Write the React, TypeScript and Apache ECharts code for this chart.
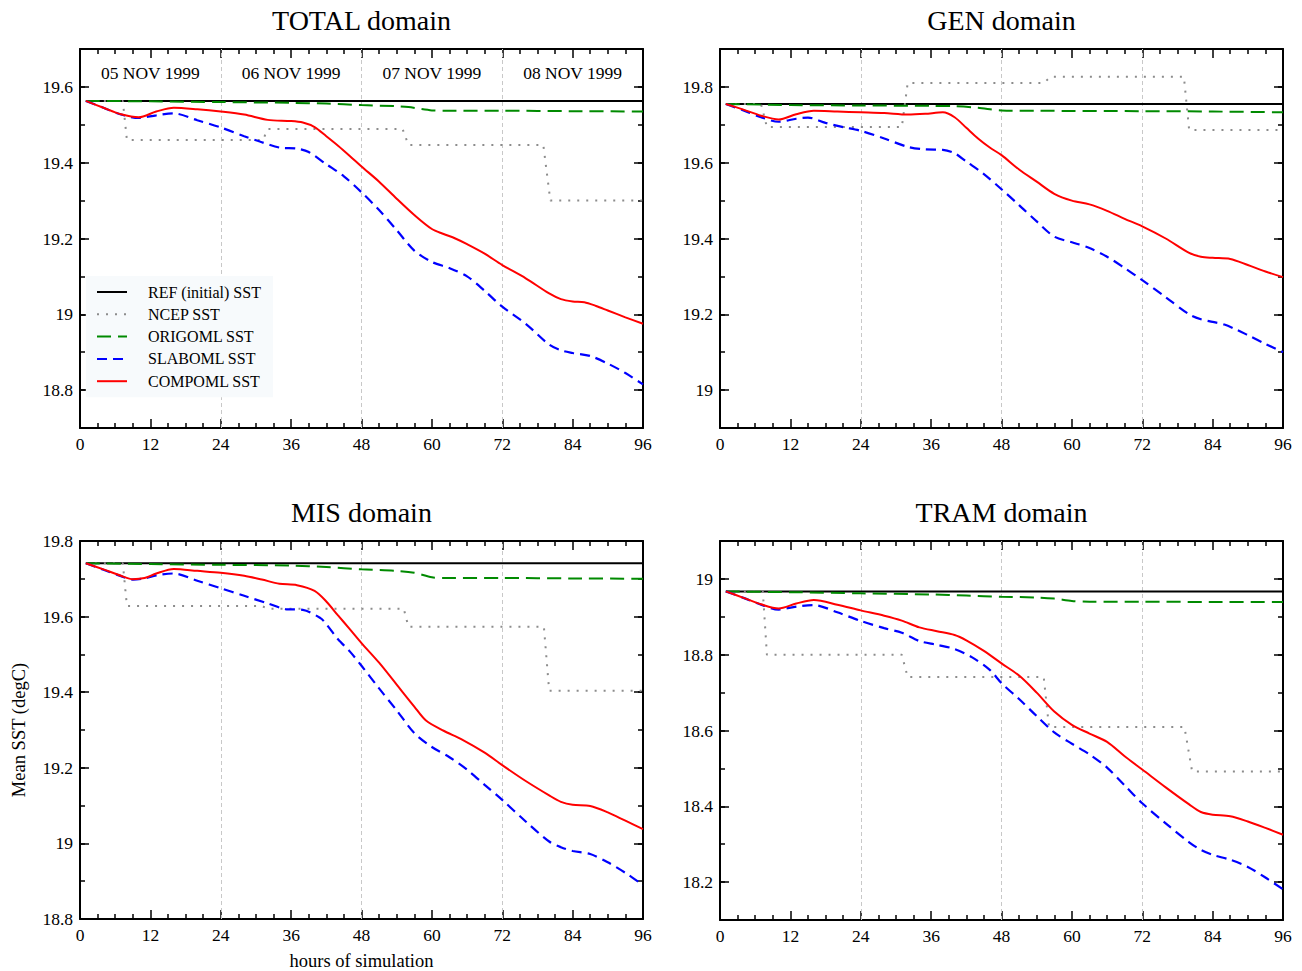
import React, { useEffect, useRef } from "react";
import * as echarts from "echarts";

const FONT = "'Liberation Serif', 'Times New Roman', serif";

const panelTitles = ["TOTAL domain", "GEN domain", "MIS domain", "TRAM domain"];
const seriesNames = ["REF (initial) SST", "NCEP SST", "ORIGOML SST", "SLABOML SST", "COMPOML SST"];
const seriesColors = ["#000000", "#8c8c8c", "#008a00", "#0000ff", "#ff0000"];
const xAxisName = "hours of simulation";
const yAxisName = "Mean SST (degC)";

const dayBoundaries = [24, 48, 72];
const dayLabelHours = [12, 36, 60, 84];
const dayLabels = ["05 NOV 1999", "06 NOV 1999", "07 NOV 1999", "08 NOV 1999"];

const yRanges = [
  [18.7, 19.7],
  [18.9, 19.9],
  [18.8, 19.8],
  [18.1, 19.1],
];
const yMajorTicks = [
  [18.8, 19, 19.2, 19.4, 19.6],
  [19, 19.2, 19.4, 19.6, 19.8],
  [18.8, 19, 19.2, 19.4, 19.6, 19.8],
  [18.2, 18.4, 18.6, 18.8, 19],
];

// TOTAL domain
const totalRef = [[1, 19.563], [96, 19.563]];
const totalNcep = [[1, 19.563], [7.3, 19.563], [8, 19.46], [31.2, 19.46], [32, 19.489], [55, 19.489], [56, 19.447], [79, 19.447], [80.2, 19.3], [96, 19.3]];
const totalOrig = [[1, 19.563], [12, 19.562], [24, 19.56], [36, 19.558], [42, 19.556], [48, 19.552], [54, 19.549], [56, 19.547], [58, 19.542], [60, 19.538], [62, 19.537], [72, 19.537], [84, 19.536], [96, 19.535]];
const totalSlab = [[1, 19.563], [4, 19.545], [7, 19.527], [10, 19.518], [13, 19.525], [16, 19.53], [20, 19.512], [24, 19.493], [28, 19.47], [31, 19.454], [34, 19.44], [37, 19.437], [39, 19.428], [42, 19.396], [45, 19.364], [48, 19.322], [51, 19.275], [54, 19.222], [57, 19.168], [60, 19.138], [63, 19.122], [66, 19.1], [69, 19.062], [72, 19.02], [76, 18.975], [80, 18.92], [82, 18.905], [84, 18.898], [87, 18.89], [90, 18.87], [93, 18.845], [96, 18.815]];
const totalComp = [[1, 19.563], [4, 19.545], [7, 19.528], [10, 19.52], [13, 19.535], [16, 19.545], [20, 19.541], [24, 19.535], [28, 19.527], [32, 19.513], [36, 19.51], [38, 19.506], [40, 19.494], [42, 19.47], [44, 19.445], [46, 19.418], [48, 19.39], [51, 19.35], [54, 19.305], [57, 19.262], [60, 19.225], [62, 19.212], [64, 19.2], [66, 19.185], [69, 19.16], [72, 19.13], [76, 19.095], [80, 19.055], [82, 19.04], [84, 19.034], [86, 19.032], [88, 19.022], [90, 19.01], [93, 18.992], [96, 18.975]];

// GEN domain
const genRef = [[1, 19.755], [96, 19.755]];
const genNcep = [[1, 19.755], [7, 19.755], [8, 19.694], [31, 19.694], [32, 19.81], [55.2, 19.81], [56.4, 19.827], [79.1, 19.827], [80, 19.686], [96, 19.686]];
const genOrig = [[1, 19.755], [12, 19.752], [24, 19.751], [36, 19.75], [40, 19.749], [44, 19.745], [48, 19.738], [54, 19.737], [72, 19.736], [84, 19.735], [96, 19.733]];
const genSlab = [[1, 19.755], [4, 19.738], [7, 19.72], [10, 19.708], [13, 19.716], [15, 19.719], [18, 19.705], [21, 19.694], [24, 19.684], [28, 19.664], [32, 19.642], [35, 19.635], [38, 19.634], [40, 19.625], [42, 19.603], [45, 19.57], [48, 19.53], [51, 19.488], [54, 19.445], [57, 19.405], [60, 19.39], [63, 19.375], [66, 19.352], [69, 19.322], [72, 19.29], [76, 19.245], [80, 19.2], [82, 19.187], [84, 19.18], [86, 19.173], [88, 19.16], [90, 19.145], [93, 19.122], [96, 19.1]];
const genComp = [[1, 19.755], [4, 19.74], [7, 19.724], [10, 19.714], [13, 19.728], [16, 19.737], [20, 19.735], [24, 19.733], [28, 19.731], [32, 19.727], [35, 19.729], [38, 19.733], [40, 19.72], [42, 19.692], [44, 19.664], [46, 19.64], [48, 19.62], [51, 19.582], [54, 19.55], [57, 19.518], [60, 19.5], [63, 19.49], [66, 19.473], [69, 19.452], [72, 19.432], [76, 19.4], [80, 19.362], [82, 19.352], [84, 19.349], [87, 19.346], [90, 19.33], [93, 19.313], [96, 19.298]];

// MIS domain
const misRef = [[1, 19.741], [96, 19.741]];
const misNcep = [[1, 19.741], [7.3, 19.741], [8, 19.628], [31, 19.628], [32, 19.621], [55.2, 19.621], [56, 19.573], [79.1, 19.573], [80, 19.404], [96, 19.404]];
const misOrig = [[1, 19.741], [12, 19.739], [24, 19.737], [36, 19.735], [42, 19.731], [48, 19.725], [54, 19.721], [57, 19.716], [60, 19.704], [62, 19.702], [72, 19.702], [84, 19.701], [96, 19.7]];
const misSlab = [[1, 19.741], [4, 19.724], [7, 19.707], [9, 19.698], [11, 19.701], [13, 19.709], [16, 19.714], [20, 19.695], [24, 19.675], [28, 19.655], [32, 19.635], [35, 19.62], [38, 19.618], [41, 19.596], [42, 19.58], [44, 19.54], [46, 19.508], [48, 19.47], [51, 19.41], [54, 19.352], [57, 19.292], [60, 19.255], [63, 19.228], [66, 19.195], [69, 19.155], [72, 19.115], [76, 19.058], [80, 19.005], [82, 18.99], [84, 18.98], [87, 18.972], [90, 18.95], [93, 18.922], [96, 18.89]];
const misComp = [[1, 19.741], [4, 19.725], [7, 19.708], [9, 19.699], [11, 19.702], [13, 19.714], [16, 19.726], [20, 19.721], [24, 19.716], [28, 19.708], [31, 19.698], [34, 19.687], [37, 19.683], [40, 19.668], [42, 19.64], [44, 19.603], [46, 19.567], [48, 19.53], [51, 19.478], [54, 19.42], [57, 19.362], [59, 19.325], [62, 19.298], [65, 19.276], [69, 19.24], [72, 19.207], [76, 19.165], [80, 19.127], [82, 19.11], [84, 19.102], [87, 19.099], [90, 19.082], [93, 19.06], [96, 19.038]];

// TRAM domain
const tramRef = [[1, 18.967], [96, 18.967]];
const tramNcep = [[1, 18.967], [7.3, 18.967], [8, 18.8], [31, 18.8], [32, 18.741], [55.2, 18.741], [56.1, 18.609], [79.2, 18.609], [80.5, 18.492], [96, 18.492]];
const tramOrig = [[1, 18.967], [12, 18.965], [24, 18.962], [36, 18.959], [42, 18.956], [48, 18.953], [54, 18.951], [57, 18.948], [60, 18.942], [63, 18.94], [72, 18.94], [84, 18.939], [96, 18.939]];
const tramSlab = [[1, 18.967], [4, 18.95], [7, 18.932], [10, 18.919], [13, 18.927], [16, 18.931], [20, 18.912], [24, 18.889], [28, 18.87], [31, 18.858], [34, 18.836], [37, 18.826], [40, 18.815], [43, 18.793], [46, 18.76], [48, 18.725], [51, 18.683], [54, 18.638], [57, 18.595], [60, 18.565], [63, 18.537], [66, 18.502], [69, 18.455], [72, 18.408], [76, 18.355], [80, 18.305], [82, 18.285], [84, 18.272], [87, 18.259], [90, 18.24], [93, 18.212], [96, 18.181]];
const tramComp = [[1, 18.967], [4, 18.95], [7, 18.933], [10, 18.922], [13, 18.935], [16, 18.944], [20, 18.932], [24, 18.917], [28, 18.903], [31, 18.89], [34, 18.872], [37, 18.862], [40, 18.852], [42, 18.838], [45, 18.81], [48, 18.777], [51, 18.745], [54, 18.7], [57, 18.65], [60, 18.615], [63, 18.592], [66, 18.57], [69, 18.532], [72, 18.497], [76, 18.45], [80, 18.405], [82, 18.385], [84, 18.378], [87, 18.374], [90, 18.36], [93, 18.343], [96, 18.325]];

const panelData = [
  [totalRef, totalNcep, totalOrig, totalSlab, totalComp],
  [genRef, genNcep, genOrig, genSlab, genComp],
  [misRef, misNcep, misOrig, misSlab, misComp],
  [tramRef, tramNcep, tramOrig, tramSlab, tramComp],
];

const gridLefts = [80, 720, 80, 720];
const gridTops = [49, 49, 541, 541];
const GRID_W = 563;
const GRID_H = 379;

const lineTypes: any[] = ["solid", [2, 7], [14, 7], [10, 6], "solid"];
const lineWidths = [2, 2, 2, 2.2, 2];
const smoothing = [false, false, 0.3, 0.3, 0.3];

function buildOption() {
  const grids: any[] = [];
  const xAxes: any[] = [];
  const yAxes: any[] = [];
  const series: any[] = [];
  const graphics: any[] = [];
  const black = "#000";
  const tickLine = { color: black, width: 1.5 };

  for (let p = 0; p < 4; p++) {
    grids.push({ left: gridLefts[p], top: gridTops[p], width: GRID_W, height: GRID_H, containLabel: false });
    const base = {
      type: "value",
      gridIndex: p,
      min: 0,
      max: 96,
      interval: 12,
      axisLine: { show: true, onZero: false, lineStyle: { color: black, width: 2 } },
      axisTick: { show: true, inside: true, length: 9, lineStyle: tickLine },
      minorTick: { show: true, splitNumber: 4, length: 5, lineStyle: tickLine },
      splitLine: { show: false },
      minorSplitLine: { show: false },
    };
    xAxes.push({
      ...base,
      position: "bottom",
      axisLabel: { show: true, margin: 7, color: black, fontFamily: FONT, fontSize: 17.5 },
      ...(p === 2
        ? {
            name: xAxisName,
            nameLocation: "middle",
            nameGap: 32,
            nameTextStyle: { color: black, fontFamily: FONT, fontSize: 18.5 },
          }
        : {}),
    });
    xAxes.push({
      ...base,
      position: "top",
      axisLabel:
        p === 0
          ? {
              show: true,
              inside: true,
              margin: 15,
              customValues: dayLabelHours,
              formatter: (v: number) => dayLabels[dayLabelHours.indexOf(v)] ?? "",
              color: black,
              fontFamily: FONT,
              fontSize: 17.5,
            }
          : { show: false },
    });

    const [ymin, ymax] = yRanges[p];
    const majorAxis = (pos: string) => ({
      type: "value",
      gridIndex: p,
      position: pos,
      min: ymin,
      max: ymax,
      interval: 0.1,
      axisLine: { show: true, onZero: false, lineStyle: { color: black, width: 2 } },
      axisTick: { show: true, inside: true, length: 9, customValues: yMajorTicks[p], lineStyle: tickLine },
      axisLabel:
        pos === "left"
          ? { show: true, margin: 7, customValues: yMajorTicks[p], color: black, fontFamily: FONT, fontSize: 17.5 }
          : { show: false },
      splitLine: { show: false },
      ...(p === 2 && pos === "left"
        ? {
            name: yAxisName,
            nameLocation: "middle",
            nameRotate: 90,
            nameGap: 52,
            nameTextStyle: { color: black, fontFamily: FONT, fontSize: 18.5 },
          }
        : {}),
    });
    const minorAxis = (pos: string) => ({
      type: "value",
      gridIndex: p,
      position: pos,
      min: ymin,
      max: ymax,
      interval: 0.1,
      axisLine: { show: false, onZero: false },
      axisTick: { show: true, inside: true, length: 5, lineStyle: tickLine },
      axisLabel: { show: false },
      splitLine: { show: false },
    });
    yAxes.push(majorAxis("left"), minorAxis("left"), majorAxis("right"), minorAxis("right"));

    panelData[p].forEach((data, s) => {
      const item: any = {
        name: seriesNames[s],
        type: "line",
        xAxisIndex: 2 * p,
        yAxisIndex: 4 * p,
        data,
        symbol: "none",
        showSymbol: false,
        smooth: smoothing[s],
        color: seriesColors[s],
        itemStyle: { color: seriesColors[s], opacity: 0 },
        lineStyle: { color: seriesColors[s], width: lineWidths[s], type: lineTypes[s], cap: "butt" },
        z: 3 + s,
      };
      if (s === 0) {
        item.markLine = {
          silent: true,
          symbol: ["none", "none"],
          label: { show: false },
          lineStyle: { color: "#c8c8c8", type: [4, 3], width: 1, opacity: 1 },
          data: dayBoundaries.map((h) => ({ xAxis: h })),
          z: 1,
        };
      }
      series.push(item);
    });

    graphics.push({
      type: "text",
      x: gridLefts[p] + GRID_W / 2,
      y: gridTops[p] - 29,
      style: {
        text: panelTitles[p],
        fill: black,
        font: `28px ${FONT}`,
        textAlign: "center",
        textVerticalAlign: "middle",
      },
    });
  }

  return {
    animation: false,
    backgroundColor: "#ffffff",
    grid: grids,
    xAxis: xAxes,
    yAxis: yAxes,
    series,
    graphic: graphics,
    legend: {
      show: true,
      data: seriesNames,
      orient: "vertical",
      left: 86,
      top: 276,
      padding: [8, 12, 8, 10],
      backgroundColor: "#f7fafc",
      itemWidth: 30,
      itemHeight: 14,
      itemGap: 6.3,
      selectedMode: false,
      itemStyle: { opacity: 0, borderWidth: 0 },
      textStyle: { color: black, fontFamily: FONT, fontSize: 16, padding: [0, 0, 0, 16] },
    },
  };
}

export default function App() {
  const ref = useRef<HTMLDivElement>(null);
  useEffect(() => {
    if (!ref.current) return;
    const chart = echarts.init(ref.current, undefined, { renderer: "svg" });
    chart.setOption(buildOption() as any);
    return () => chart.dispose();
  }, []);
  return (
    <div
      ref={ref}
      style={{ position: "fixed", left: 0, top: 0, width: 1302, height: 971, background: "#fff" }}
    />
  );
}
